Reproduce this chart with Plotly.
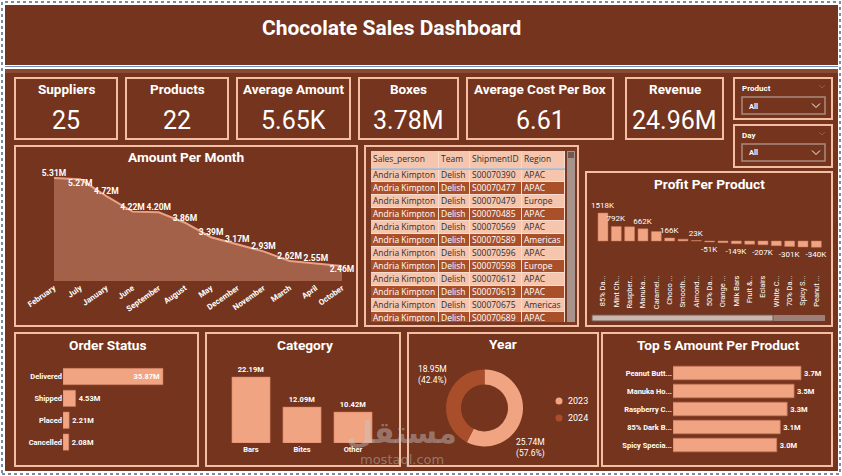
import plotly.graph_objects as go

W, H = 842, 476
def X(px): return px / W
def Y(py): return 1 - py / H

BG = "#74341E"
BORDER = "#F4BEA2"
BAR = "#F0A482"
BARLINE = "#C9775A"
DARK = "#A84E2A"
AREA = "#A3614A"
WHITE = "#FFFFFF"
LIGHTROW = "#F5C5AE"
DARKROW = "#A9502B"
TF = "Roboto"
TBLF = "Open Sans"

# ---------------- data ----------------
kpi_titles = ["Suppliers", "Products", "Average Amount", "Boxes", "Average Cost Per Box", "Revenue"]
kpi_values = ["25", "22", "5.65K", "3.78M", "6.61", "24.96M"]

months = ["February", "July", "January", "June", "September", "August", "May",
          "December", "November", "March", "April", "October"]
month_amount = [5.31, 5.27, 4.72, 4.22, 4.20, 3.86, 3.39, 3.17, 2.93, 2.62, 2.55, 2.46]

table_cols = ["Sales_person", "Team", "ShipmentID", "Region"]
sales_person = ["Andria Kimpton"] * 12
team = ["Delish"] * 12
shipment_id = ["S00070390", "S00070477", "S00070479", "S00070485", "S00070569", "S00070589",
               "S00070596", "S00070598", "S00070612", "S00070613", "S00070675", "S00070689"]
region = ["APAC", "APAC", "Europe", "APAC", "APAC", "Americas",
          "APAC", "Europe", "APAC", "APAC", "Americas", "APAC"]

profit_products = ["85% Da...", "Mint Ch...", "Raspber...", "Manuka...", "Caramel...", "Choco ...",
                   "Smooth...", "Almond...", "50% Da...", "Orange ...", "Milk Bars", "Fruit &...",
                   "Eclairs", "White C...", "70% Da...", "Spicy S...", "Peanut ..."]
profit_values = [1518, 792, 770, 662, 510, 166, 100, 23, -51, -90, -149, -180, -207, -255, -301, -320, -340]
profit_label_shown = [1, 1, 0, 1, 0, 1, 0, 1, 1, 0, 1, 0, 1, 0, 1, 0, 1]

order_status = ["Delivered", "Shipped", "Placed", "Cancelled"]
order_amount = [35.87, 4.53, 2.21, 2.08]

categories = ["Bars", "Bites", "Other"]
category_amount = [22.19, 12.09, 10.42]

years = ["2023", "2024"]
year_amount = [25.74, 18.95]

top5_products = ["Peanut Butt...", "Manuka Ho...", "Raspberry C...", "85% Dark B...", "Spicy Specia..."]
top5_amount = [3.7, 3.5, 3.3, 3.1, 3.0]

# table geometry (pixel units on the table's own axes)
col_edges = [371, 439, 470, 522, 565]
header_h, row_h, tbl_top, tbl_bottom = 18, 13, 151, 322

# ---------------- figure ----------------
fig = go.Figure()

# Amount per month (area)
month_pos = ["top center", "bottom center"] + ["top center"] * 9 + ["bottom center"]
fig.add_trace(go.Scatter(
    x=months, y=month_amount, mode="lines+text", fill="tozeroy",
    fillcolor=AREA, line=dict(color="#E9A283", width=2),
    text=[f"{v:.2f}M" for v in month_amount], textposition=month_pos,
    textfont=dict(size=8.5, color=WHITE, family=TF, weight="bold"),
    cliponaxis=False, xaxis="x", yaxis="y", hoverinfo="skip", showlegend=False))

# Profit per product
fig.add_trace(go.Bar(
    x=profit_products, y=profit_values,
    marker=dict(color=BAR, line=dict(color=BARLINE, width=0.5)),
    text=[f"{v}K" if s else "" for v, s in zip(profit_values, profit_label_shown)],
    textposition="outside", constraintext="none", cliponaxis=False,
    textfont=dict(size=8, color=WHITE, family=TF),
    xaxis="x2", yaxis="y2", showlegend=False))

# Order status
fig.add_trace(go.Bar(
    y=order_status, x=order_amount, orientation="h",
    marker=dict(color=BAR, line=dict(color=BARLINE, width=0.5)),
    text=[f"{v:.2f}M" for v in order_amount],
    textposition=["inside", "outside", "outside", "outside"],
    insidetextanchor="end", constraintext="none", cliponaxis=False,
    textfont=dict(size=7.5, color=WHITE, family=TF, weight="bold"),
    insidetextfont=dict(size=7.5, color=WHITE, family=TF, weight="bold"),
    outsidetextfont=dict(size=7.5, color=WHITE, family=TF, weight="bold"),
    xaxis="x3", yaxis="y3", showlegend=False))

# Category
fig.add_trace(go.Bar(
    x=categories, y=category_amount,
    marker=dict(color=BAR, line=dict(color=BARLINE, width=0.5)),
    text=[f"{v:.2f}M" for v in category_amount],
    textposition="outside", constraintext="none", cliponaxis=False,
    textfont=dict(size=7.5, color=WHITE, family=TF, weight="bold"),
    xaxis="x4", yaxis="y4", showlegend=False))

# Top 5
fig.add_trace(go.Bar(
    y=top5_products, x=top5_amount, orientation="h",
    marker=dict(color=BAR, line=dict(color=BARLINE, width=0.8)),
    text=[f"{v:.1f}M" for v in top5_amount],
    textposition="outside", constraintext="none", cliponaxis=False,
    textfont=dict(size=7.5, color=WHITE, family=TF, weight="bold"),
    xaxis="x5", yaxis="y5", showlegend=False))

# Year donut
fig.add_trace(go.Pie(
    labels=years, values=year_amount, hole=0.61, sort=False, direction="clockwise",
    marker=dict(colors=[BAR, DARK]), textinfo="none", showlegend=False,
    domain=dict(x=[X(446), X(523)], y=[Y(446.5), Y(369.5)])))

# Table: cell fills as a heatmap, text as a scatter text layer on the table axes
n = len(shipment_id)
row_edges = [tbl_top, tbl_top + header_h] + [tbl_top + header_h + row_h * (k + 1) for k in range(n)]
z = [[0] * 4] + [[(i % 2)] * 4 for i in range(n)]
fig.add_trace(go.Heatmap(
    x=col_edges, y=row_edges, z=z, zmin=0, zmax=1,
    colorscale=[[0, LIGHTROW], [1, DARKROW]], showscale=False,
    xgap=1, ygap=1, hoverinfo="skip", xaxis="x6", yaxis="y6"))

cols_data = [sales_person, team, shipment_id, region]
tx, ty, tt, tc = [], [], [], []
for j, name in enumerate(table_cols):
    tx.append(col_edges[j] + 2); ty.append(tbl_top + header_h / 2); tt.append(name); tc.append("#2E2E2E")
    for i in range(n):
        tx.append(col_edges[j] + 2)
        ty.append(tbl_top + header_h + row_h * i + row_h / 2 + 0.5)
        tt.append(cols_data[j][i])
        tc.append("#2E2E2E" if i % 2 == 0 else WHITE)
fig.add_trace(go.Scatter(
    x=tx, y=ty, text=tt, mode="text", textposition="middle right",
    textfont=dict(size=8.5, color=tc, family=TBLF), cliponaxis=True,
    hoverinfo="skip", showlegend=False, xaxis="x6", yaxis="y6"))

# ---------------- shapes ----------------
shapes = []
def rect(x0, y0, x1, y1, fill=BG, line=BORDER, lw=2, dash=None, layer="below"):
    d = dict(type="rect", xref="paper", yref="paper", x0=X(x0), x1=X(x1), y0=Y(y1), y1=Y(y0),
             fillcolor=fill, line=dict(color=line, width=lw), layer=layer)
    if dash:
        d["line"]["dash"] = dash
    shapes.append(d)

rect(2, 2, 840, 474, fill="white", line="#7D8AA0", lw=2, dash="dot")
rect(5, 5, 838, 65, fill=BG, line=BG, lw=0)
rect(5, 65, 838, 69, fill="#FFFFFF", line="#FFFFFF", lw=0)
shapes.append(dict(type="line", xref="paper", yref="paper", x0=X(5), x1=X(838), y0=Y(66.5), y1=Y(66.5),
                   line=dict(color="#6F8FC2", width=1), layer="below"))
rect(5, 69, 838, 471, fill=BG, line=BG, lw=0)
rect(5, 69, 838, 73, fill="#8A4A32", line="#8A4A32", lw=0)

# KPI boxes
kpi_boxes = [(15, 117), (126, 228), (237, 350), (359, 458), (467, 613), (626, 723)]
for (a, b) in kpi_boxes:
    rect(a, 78, b, 139)
# slicers
rect(734, 78, 832, 119)
rect(734, 125, 832, 167)
rect(742, 97, 825, 114, fill="rgba(0,0,0,0)", line="#A98B80", lw=1.5)
rect(742, 144, 825, 161, fill="rgba(0,0,0,0)", line="#A98B80", lw=1.5)
for yy in (105.5, 152.5):
    shapes.append(dict(type="path", xref="paper", yref="paper",
                       path=f"M {X(812)} {Y(yy-2)} L {X(816)} {Y(yy+2)} L {X(820)} {Y(yy-2)}",
                       line=dict(color=WHITE, width=1)))
for yy in (86.5, 133.5):
    shapes.append(dict(type="path", xref="paper", yref="paper",
                       path=f"M {X(819)} {Y(yy-1.5)} L {X(822)} {Y(yy+1.5)} L {X(825)} {Y(yy-1.5)}",
                       line=dict(color="#8E5A46", width=1)))

# panels
rect(15, 146, 357, 326)
rect(365, 146, 578, 326, fill="#7A3922")
rect(371, 151, 565, 322, fill="#F9DCCD", line="#F9DCCD", lw=0)
rect(586, 172, 832, 326)
rect(15, 333, 198, 466)
rect(206, 333, 400, 466)
rect(408, 333, 598, 466)
rect(602, 333, 832, 466)

# table vertical scrollbar
rect(567, 151, 575, 322, fill="#A8938C", line="#A8938C", lw=0, layer="above")
rect(568, 152, 574, 158, fill="#6E5A52", line="#6E5A52", lw=0, layer="above")
# header underline in table
shapes.append(dict(type="line", xref="paper", yref="paper", x0=X(371), x1=X(565), y0=Y(169), y1=Y(169),
                   line=dict(color="#6FA8DC", width=1), layer="above"))

# profit horizontal scrollbar
rect(592, 315, 825, 321, fill="#9C8078", line="#9C8078", lw=0, layer="above")
rect(592, 315, 773, 321, fill="#C9B6AE", line="#6E5A52", lw=1, layer="above")

# year legend markers
for yy, col in ((401, BAR), (418, DARK)):
    shapes.append(dict(type="circle", xref="paper", yref="paper",
                       x0=X(555.5), x1=X(562.5), y0=Y(yy + 3.5), y1=Y(yy - 3.5),
                       fillcolor=col, line=dict(width=0)))

# ---------------- annotations ----------------
ann = []
def txt(x, y, s, size, bold=False, color=WHITE, xanchor="center", family=TF):
    ann.append(dict(x=X(x), y=Y(y), xref="paper", yref="paper", text=s, showarrow=False,
                    font=dict(size=size, color=color, family=family, weight="bold" if bold else "normal"),
                    xanchor=xanchor, yanchor="middle"))

txt(391, 28, "Chocolate Sales Dashboard", 21, bold=True, xanchor="center")
for (a, b), t, v in zip(kpi_boxes, kpi_titles, kpi_values):
    c = (a + b) / 2
    txt(c, 89, t, 13.5, bold=True)
    txt(c, 120, v, 25)

txt(740, 88, "Product", 8, bold=True, xanchor="left")
txt(747, 106, "All", 7.5, bold=True, xanchor="left")
txt(740, 135, "Day", 8, bold=True, xanchor="left")
txt(747, 153, "All", 7.5, bold=True, xanchor="left")

txt(186, 157, "Amount Per Month", 13.7, bold=True)
txt(709, 184, "Profit Per Product", 13.7, bold=True)
txt(108, 345, "Order Status", 13.7, bold=True)
txt(305, 345, "Category", 13.7, bold=True)
txt(503, 344, "Year", 13.7, bold=True)
txt(718, 345, "Top 5 Amount Per Product", 13.7, bold=True)

tot = sum(year_amount)
txt(432, 375, f"{year_amount[1]:.2f}M<br>({year_amount[1]/tot*100:.1f}%)", 8.5)
txt(530, 448, f"{year_amount[0]:.2f}M<br>({year_amount[0]/tot*100:.1f}%)", 8.5)
txt(566, 401, years[0], 9, xanchor="left")
txt(566, 418, years[1], 9, xanchor="left")

# watermark
txt(402, 432, "مستقل", 30, bold=True, color="rgba(200,200,200,0.45)", family="DejaVu Sans")
txt(402, 459, "mostaql.com", 13, color="rgba(200,200,200,0.45)", family="DejaVu Sans")

# ---------------- layout ----------------
tick_font = dict(size=7.5, color=WHITE, family=TF, weight="bold")
hidden = dict(visible=False, showgrid=False, zeroline=False, automargin=False)
plain = dict(showgrid=False, zeroline=False, showline=False, ticks="", automargin=False)
fig.update_layout(
    width=W, height=H, margin=dict(l=0, r=0, t=0, b=0, pad=0, autoexpand=False),
    paper_bgcolor="white", plot_bgcolor="rgba(0,0,0,0)",
    shapes=shapes, annotations=ann, bargap=0.25,
    xaxis=dict(domain=[X(54), X(342)], type="category", range=[0, 11], tickangle=-35,
               tickfont=dict(size=8, color=WHITE, family=TF, weight="bold"), anchor="y", **plain),
    yaxis=dict(domain=[Y(281), Y(170)], range=[1.97, 5.57], anchor="x", **hidden),
    xaxis2=dict(domain=[X(596.3), X(823)], type="category", tickangle=-90,
                tickfont=dict(size=7.5, color=WHITE, family=TF), anchor="y2", **plain),
    yaxis2=dict(domain=[Y(273), Y(198)], range=[-1734, 2331], anchor="x2", **hidden),
    xaxis3=dict(domain=[X(63), X(190)], range=[0, 45.56], anchor="y3", **hidden),
    yaxis3=dict(domain=[Y(453), Y(365.6)], type="category", autorange="reversed",
                tickfont=tick_font, anchor="x3", **plain),
    xaxis4=dict(domain=[X(225.5), X(378.5)], type="category", tickfont=tick_font, anchor="y4", **plain),
    yaxis4=dict(domain=[Y(443), Y(365)], range=[0, 26.2], anchor="x4", **hidden),
    xaxis5=dict(domain=[X(673), X(820)], range=[0, 4.25], anchor="y5", **hidden),
    yaxis5=dict(domain=[Y(454), Y(364)], type="category", autorange="reversed",
                tickfont=tick_font, anchor="x5", **plain),
    xaxis6=dict(domain=[X(col_edges[0]), X(col_edges[-1])], range=[col_edges[0], col_edges[-1]],
                anchor="y6", **hidden),
    yaxis6=dict(domain=[Y(tbl_bottom), Y(tbl_top)], range=[tbl_bottom, tbl_top],
                anchor="x6", **hidden),
)

fig.write_html("out.html")
